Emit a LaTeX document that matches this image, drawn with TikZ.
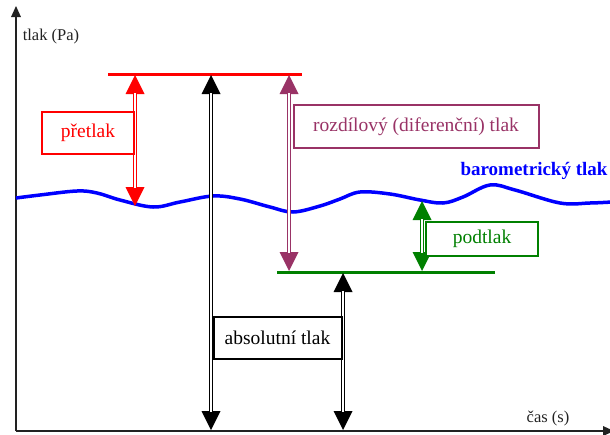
\documentclass[tikz,border=0pt]{standalone}
\usepackage{fontspec}
\setmainfont{Liberation Serif}
\usetikzlibrary{arrows.meta}
\definecolor{cred}{HTML}{FF0000}
\definecolor{cpurple}{HTML}{993366}
\definecolor{cgreen}{HTML}{008000}
\definecolor{cblue}{HTML}{0000FF}
\definecolor{ctext}{HTML}{222222}
\tikzset{
  bigtri/.tip={Triangle[width=19pt,length=19pt,line width=0pt]},
  dblarrow/.style={line width=4.5pt, bigtri-bigtri},
  dblinner/.style={white, line width=1.5pt, shorten <=18pt, shorten >=18pt},
  level/.style={line width=3pt},
  axis/.style={line width=1.5pt, ctext, -{Triangle[width=10pt,length=11pt,line width=0pt]}},
  lbox/.style={draw=#1, text=#1, fill=white, line width=2pt, inner sep=0pt, font=\fontsize{19.5}{23}\selectfont},
  axlabel/.style={ctext, font=\fontsize{16.5}{20}\selectfont, inner sep=0pt},
}
\begin{document}
\begin{tikzpicture}[x=1pt,y=-1pt]
\useasboundingbox (0,0) rectangle (610,434);
% axes
\coordinate (O) at (16,431);
\coordinate (Ytop) at (16,6);
\coordinate (Xend) at (614,431);
\draw[axis] (O) -- (Ytop);
\draw[axis] (O) -- (Xend);
\node[axlabel] (ylab) at (51,37) {tlak (Pa)};
\node[axlabel] (xlab) at (548,419) {čas (s)};
% barometric curve
\draw[cblue, line width=3.5pt] plot[smooth, tension=0.6] coordinates {
 (16,198) (40,195) (77,191) (97,193) (120,200) (153,207) (180,202) (213,196)
 (240,199) (270,207) (293,212) (320,206) (340,199) (360,192) (390,194) (420,200)
 (443,203) (463,197) (490,185) (515,190) (560,203) (590,203) (612,202)};
\node[cblue, font=\bfseries\fontsize{19}{23}\selectfont, inner sep=0pt] (baro) at (534,171) {barometrický tlak};
% level lines
\coordinate (rL) at (108,74);
\coordinate (rR) at (302,74);
\draw[cred, level] (rL) -- (rR);
\coordinate (gL) at (277,272);
\coordinate (gR) at (495,272);
\draw[cgreen, level] (gL) -- (gR);
% arrows
\coordinate (a1t) at (135,75);
\coordinate (a1b) at (135,206);
\draw[cred, dblarrow] (a1t) -- (a1b);
\draw[dblinner] (a1t) -- (a1b);
\coordinate (a2t) at (211,75);
\coordinate (a2b) at (211,430);
\draw[black, dblarrow] (a2t) -- (a2b);
\draw[dblinner] (a2t) -- (a2b);
\coordinate (a3t) at (289,75);
\coordinate (a3b) at (289,271);
\draw[cpurple, dblarrow] (a3t) -- (a3b);
\draw[dblinner] (a3t) -- (a3b);
\coordinate (a4t) at (422,201);
\coordinate (a4b) at (422,271);
\draw[cgreen, dblarrow] (a4t) -- (a4b);
\draw[dblinner] (a4t) -- (a4b);
\coordinate (a5t) at (343,273);
\coordinate (a5b) at (343,430);
\draw[black, dblarrow] (a5t) -- (a5b);
\draw[dblinner] (a5t) -- (a5b);
% boxes
\node[lbox=cred, minimum width=92pt, minimum height=42pt] (pre) at (88,133) {přetlak};
\node[lbox=cpurple, minimum width=245pt, minimum height=43pt] (roz) at (416,126.5) {rozdílový (diferenční) tlak};
\node[lbox=cgreen, minimum width=112pt, minimum height=34pt] (pod) at (482,239) {podtlak};
\node[lbox=black, minimum width=128pt, minimum height=42pt] (abs) at (277.5,338) {absolutní tlak};
\end{tikzpicture}
\end{document}
